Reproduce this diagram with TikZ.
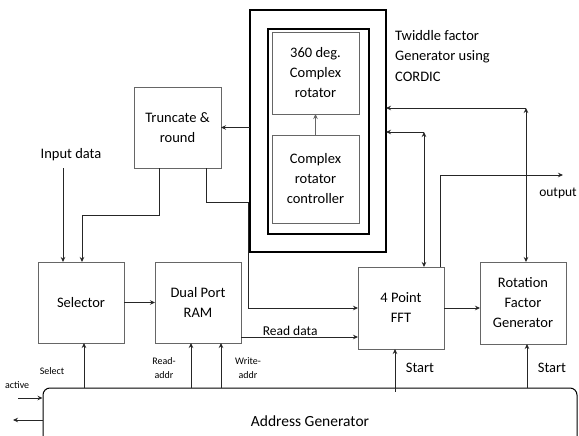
\documentclass[tikz,border=0pt]{standalone}
\usepackage{fontspec}
\setmainfont{Carlito}
\usetikzlibrary{positioning, arrows.meta}

\begin{document}
\begin{tikzpicture}[
    x=1pt, y=-1pt,
    >={Stealth[length=5pt, width=4.5pt]},
    block/.style={draw=black!60, line width=0.9pt, minimum width=86pt, minimum height=81pt, align=center, inner sep=2pt, outer sep=0pt, font=\fontsize{14.5}{20}\selectfont},
    frame/.style={draw=black, line width=1.1pt, minimum width=#1, outer sep=0pt, inner sep=0pt},
    link/.style={draw=black!85, line width=0.8pt},
    tag/.style={font=\fontsize{10}{13.5}\selectfont, align=center, inner sep=1pt},
    label/.style={font=\fontsize{14.5}{20.5}\selectfont, align=left, inner sep=1pt}
]
\useasboundingbox (0,0) rectangle (579,436);
\clip (0,0) rectangle (579,436);

% CORDIC twiddle factor generator
\node[frame=136pt, minimum height=242pt] (cordic) at (318,131) {};
\node[frame=101pt, minimum height=205pt, line width=1.6pt] (mid) at (318.5,131.5) {};
\node[block, minimum width=87pt, minimum height=82pt] (rot) at (315.5,73) {360 deg.\\Complex\\rotator};
\node[block, minimum width=87pt, minimum height=88pt] (ctrl) at (315.5,179) {Complex\\rotator\\controller};
\node[label, anchor=north west] (twiddle) at (394,29) {Twiddle factor\\Generator using\\CORDIC};

% Data path blocks
\node[block, minimum width=87pt] (trunc) at (177.5,127.5) {Truncate \&\\round};
\node[block] (sel) at (81,302.5) {Selector};
\node[block, right=31pt of sel] (ram) {Dual Port\\RAM};
\node[block, minimum height=82pt] (fft) at (401,308) {4 Point\\FFT};
\node[block, minimum height=82pt] (rfg) at (523,303) {Rotation\\Factor\\Generator};

% Address generator
\node[draw=black, line width=1pt, rounded corners=7pt, minimum width=534pt, minimum height=66pt,
      font=\fontsize{15.5}{18}\selectfont] (ag) at (310,421) {Address Generator};

% Labels
\node[label] (indata) at (71,155) {Input data};
\node[label, font=\fontsize{13.5}{15}\selectfont] (outlbl) at (558,193) {output};
\node[tag] (sellbl) at (52,371) {Select};
\node[tag] (rdlbl) at (164,368) {Read-\\addr};
\node[tag] (wrlbl) at (248,368) {Write-\\addr};
\node[tag, anchor=north west] (actlbl) at (4,380) {active};
\node[label] (st1) at (420,368) {Start};
\node[label] (st2) at (552,368) {Start};

% Connectors
\coordinate (tr1) at (82,215);
\coordinate (tr2) at (248,202);
\coordinate (c1) at (424,132);
\coordinate (c2) at (526,108);
\coordinate (outp) at (563,175);
\coordinate (actin) at (18,398);
\coordinate (actout) at (13,420);

\draw[link, ->, draw=black!60, line width=0.6pt] (ctrl.north) -- (rot.south);
\draw[link, ->] (cordic.west |- trunc.east) -- (trunc.east);
\draw[link, ->] ([xshift=-8pt]indata.south) ++(0,6) -- ([xshift=-8pt]indata.south |- sel.north);
\draw[link, ->] ([xshift=-18.5pt]trunc.south) |- (tr1) -- (tr1 |- sel.north);
\draw[link, ->] ([xshift=28.5pt]trunc.south) |- (tr2) |- (fft.west);
\draw[link, ->] (sel.east) -- (ram.west);
\draw[link, ->] ([yshift=-34.5pt]ram.east) -- ([yshift=-34.5pt]ram.east -| fft.west)
    node[pos=0.42, above=0pt, label, font=\fontsize{13.5}{15}\selectfont] {Read data};
\draw[link, ->] (fft.east) -- (fft.east -| rfg.west);
\draw[link, <->] ([xshift=23pt]fft.north) -- (c1);
\draw[link, ->] (c1) -- (c1 -| cordic.east);
\draw[link, <->] ([xshift=3pt]rfg.north) -- (c2);
\draw[link, ->] (c2) -- (c2 -| cordic.east);
\draw[link, ->] ([xshift=39pt]fft.north) |- (outp);

% Address generator outputs
\draw[link, ->] ([xshift=3pt]sel.south |- ag.north) -- ([xshift=3pt]sel.south);
\draw[link, ->] ([xshift=-7pt]ram.south |- ag.north) -- ([xshift=-7pt]ram.south);
\draw[link, ->] ([xshift=23pt]ram.south |- ag.north) -- ([xshift=23pt]ram.south);
\draw[link, ->] ([xshift=-6pt,yshift=-4pt]fft.south |- ag.north) -- ([xshift=-6pt]fft.south);
\draw[link, ->] ([xshift=4pt]rfg.south |- ag.north) -- ([xshift=4pt]rfg.south);
\draw[link, ->] (actin) -- (actin -| ag.west);
\draw[link, ->] (actout -| ag.west) -- (actout);

\end{tikzpicture}
\end{document}
